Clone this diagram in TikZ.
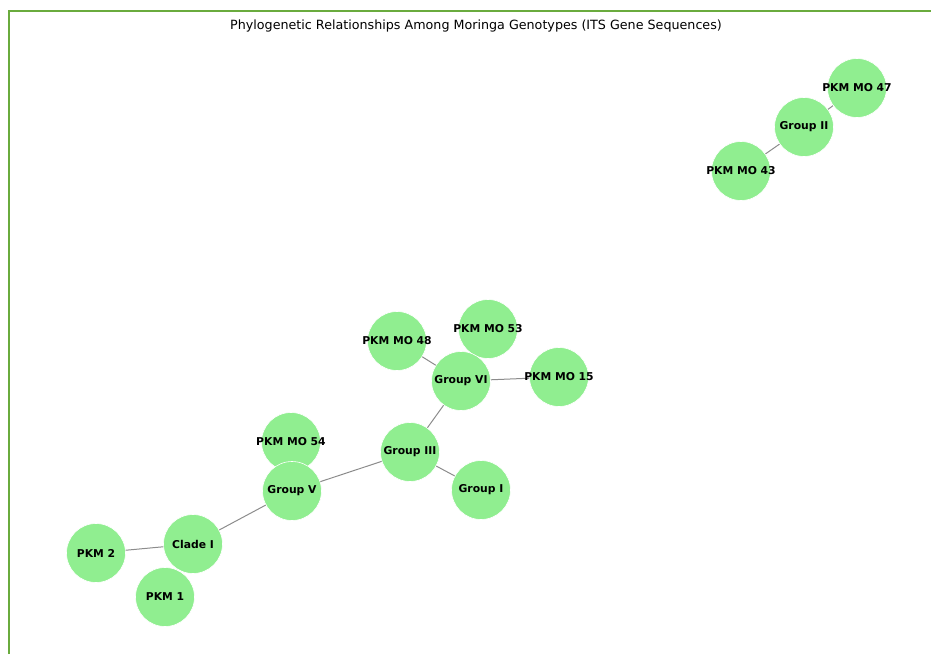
\documentclass[tikz,border=0pt]{standalone}
\usepackage{fontspec}
\setmainfont{DejaVu Sans}
\usetikzlibrary{positioning,backgrounds}
\definecolor{leafgreen}{HTML}{90EE90}
\definecolor{framegreen}{HTML}{6AAB3E}
\definecolor{linkgray}{HTML}{8C8C8C}

\begin{document}
\begin{tikzpicture}[x=1pt,y=-1pt,
  taxon/.style={circle,fill=leafgreen,draw=white,line width=0.6pt,minimum size=59pt,inner sep=0pt},
  lbl/.style={font=\bfseries\fontsize{10.8}{12}\selectfont},
  link/.style={linkgray,line width=1pt}]
  \useasboundingbox (0,0) rectangle (931,654);
  \draw[framegreen,line width=1.6pt] (9,654)--(9,11)--(931,11);
  \node (title) at (476,25.5) {\fontsize{12.7}{14}\selectfont Phylogenetic Relationships Among Moringa Genotypes (ITS Gene Sequences)};

  % group II cluster
  \node[taxon,label={[lbl]center:PKM MO 47}] (mo47) at (857,88) {};
  \node[taxon,label={[lbl]center:Group II}] (g2) at (804,127) {};
  \node[taxon,label={[lbl]center:PKM MO 43}] (mo43) at (741,171) {};

  % main tree
  \node[taxon,label={[lbl]center:PKM MO 48}] (mo48) at (397,341) {};
  \node[taxon,label={[lbl]center:PKM MO 53}] (mo53) at (488,329) {};
  \node[taxon,label={[lbl]center:Group VI}] (g6) at (461,381) {};
  \node[taxon,label={[lbl]center:PKM MO 15}] (mo15) at (559,377) {};
  \node[taxon,label={[lbl]center:PKM MO 54}] (mo54) at (291,442) {};
  \node[taxon,label={[lbl]center:Group III}] (g3) at (410,452) {};
  \node[taxon,label={[lbl]center:Group I}] (g1) at (481,490) {};
  \node[taxon,label={[lbl]center:Group V}] (g5) at (292,491) {};
  \node[taxon,label={[lbl]center:Clade I}] (c1) at (193,544) {};
  \node[taxon,label={[lbl]center:PKM 2}] (pkm2) at (96,553) {};
  \node[taxon,label={[lbl]center:PKM 1}] (pkm1) at (165,597) {};

  \begin{pgfonlayer}{background}
    \draw[link] (g2.center)--(mo47.center);
    \draw[link] (g2.center)--(mo43.center);
    \draw[link] (g6.center)--(mo48.center);
    \draw[link] (g6.center)--(mo15.center);
    \draw[link] (g3.center)--(g6.center);
    \draw[link] (g3.center)--(g1.center);
    \draw[link] (g3.center)--(g5.center);
    \draw[link] (g5.center)--(c1.center);
    \draw[link] (c1.center)--(pkm2.center);
  \end{pgfonlayer}
\end{tikzpicture}
\end{document}
